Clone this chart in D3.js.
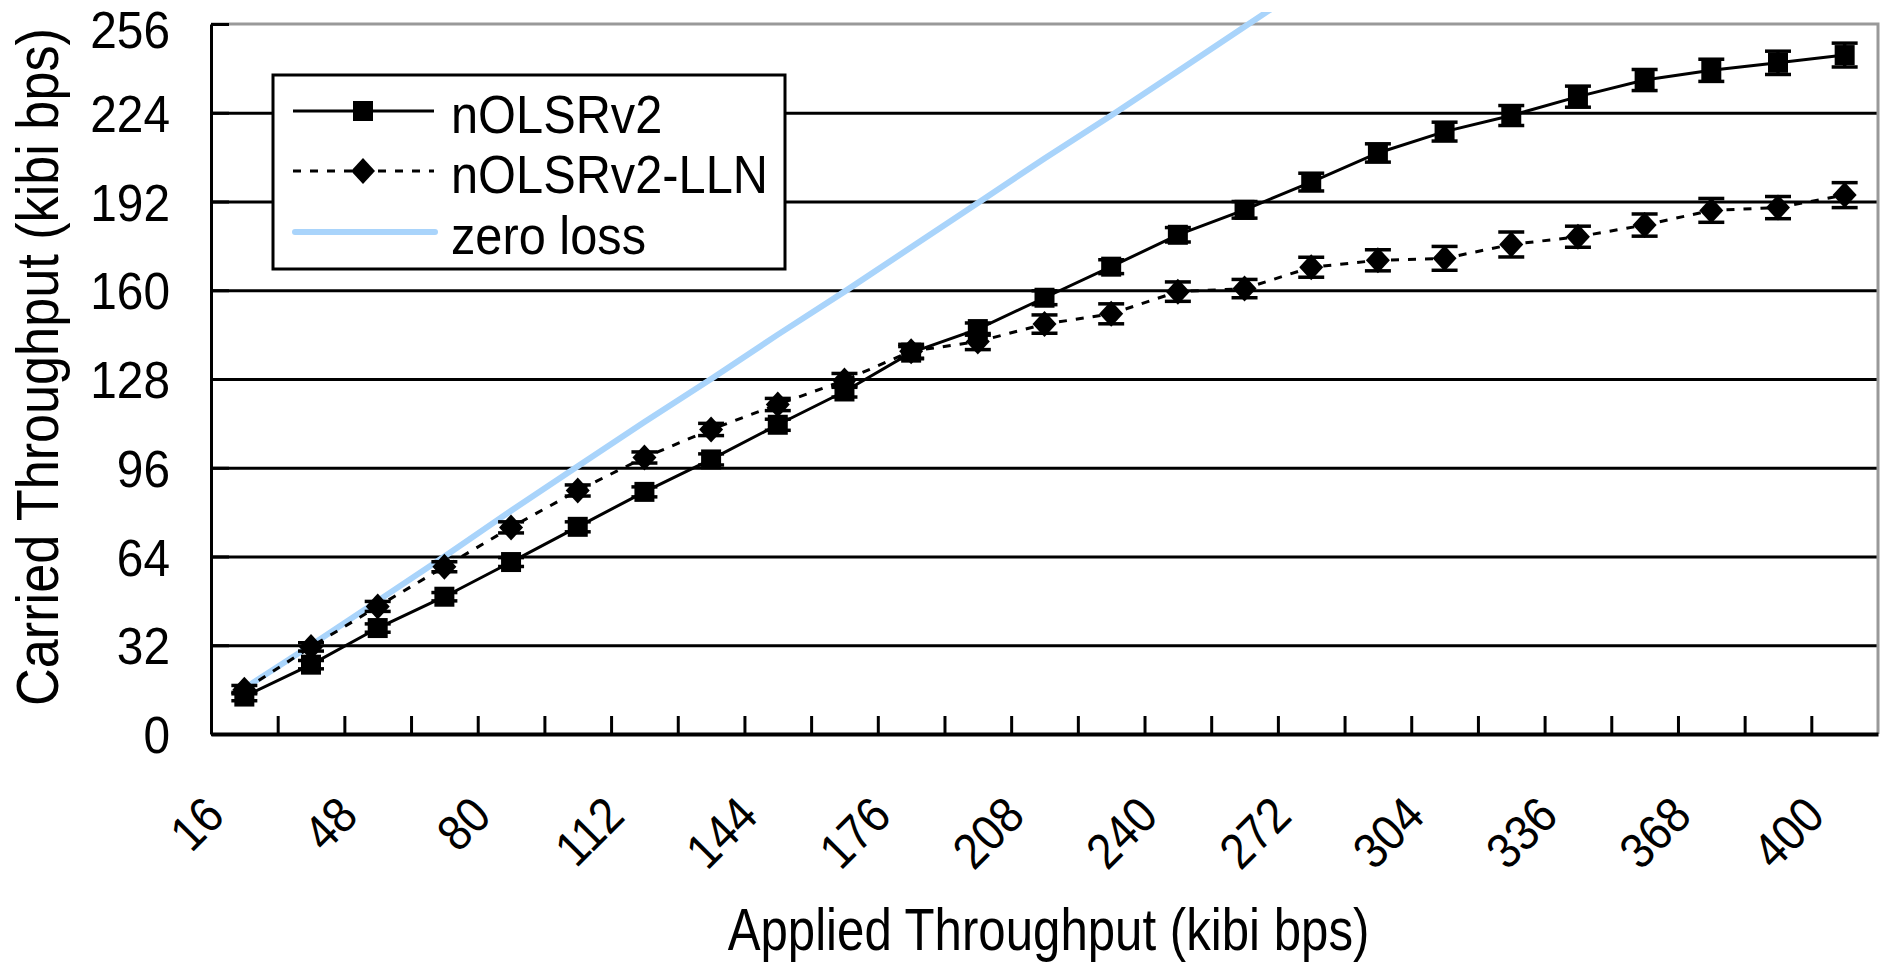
<!DOCTYPE html>
<html>
<head>
<meta charset="utf-8">
<script src="https://cdn.jsdelivr.net/npm/d3@7"></script>
<style>
  body { margin: 0; background: #fff; }
  svg { display: block; font-family: "Liberation Sans", Arial, sans-serif; }
</style>
</head>
<body>
<svg id="chart"></svg>
<script>
//constants
const margin = {top: 24, right: 14, bottom: 230, left: 211};
const width = 1892 - margin.left - margin.right;
const height = 964 - margin.top - margin.bottom;

//data
const applied = [16, 32, 48, 64, 80, 96, 112, 128, 144, 160, 176, 192, 208,
                 224, 240, 256, 272, 288, 304, 320, 336, 352, 368, 384, 400];
const xTickLabels = [16, 48, 80, 112, 144, 176, 208, 240, 272, 304, 336, 368, 400];
const yTicks = [0, 32, 64, 96, 128, 160, 192, 224, 256];

const nolsr = [13.5, 25, 38.2, 49.5, 62, 74.7, 87.3, 99, 111.5, 123.5, 137.5, 146, 157.3,
               168.5, 180, 189, 199, 209.5, 217.2, 223, 229.8, 235.8, 239.3, 242, 244.8];
const nolsrErr = [1.5, 1.5, 1.5, 1.5, 1.6, 1.8, 1.8, 2, 2, 2, 2.2, 2.2, 2.5,
                  2.5, 2.6, 3, 3.2, 3.3, 3.4, 3.6, 3.8, 3.8, 4, 4.2, 4.3];

const lln = [16, 31.4, 46, 60.3, 74.5, 87.8, 99.7, 109.8, 118.8, 127.5, 138, 141.5, 147.8,
             151.5, 159.5, 160.6, 168.3, 170.8, 171.5, 176.5, 179.3, 183.5, 188.8, 189.8, 194.3];
const llnErr = [1.5, 1.5, 1.8, 1.8, 2, 2, 2, 2.2, 2.2, 2.5, 2.5, 2.9, 3.3,
                3.6, 3.5, 3.3, 3.6, 3.8, 4.3, 4.5, 3.8, 4, 4.3, 4, 4.5];

const zeroLoss = [16.5, 32, 48, 64, 80.5, 96.5, 112.5, 128, 144, 159.5, 175.5, 191.5, 207.5,
                  223, 239, 255, 271];

const seriesNames = ["nOLSRv2", "nOLSRv2-LLN", "zero loss"];
const blue = "#a9d4fb";

//main
function main() {

    //scales
    let xScale = d3.scaleBand()
        .domain(applied)
        .range([0, width]);

    let xEdge = d3.scaleLinear()
        .domain([0, applied.length])
        .range([0, width]);

    let yScale = d3.scaleLinear()
        .domain([0, 256])
        .range([height, 0]);

    let cx = (d, i) => xScale(applied[i]) + xScale.bandwidth() / 2;

    //canvas
    let svg = d3.select("svg")
        .attr("width", 1892)
        .attr("height", 964)
        .style("background-color", "#ffffff")
        .append("g")
        .attr("transform", "translate(" + margin.left + "," + margin.top + ")");

    svg.append("clipPath")
        .attr("id", "plotclip")
        .append("rect")
        .attr("x", 0)
        .attr("y", -12)
        .attr("width", width)
        .attr("height", height + 12);

    //gridlines
    svg.append("g")
        .attr("class", "grid")
        .call(d3.axisLeft(yScale)
            .tickValues(yTicks.filter(v => v > 0 && v < 256))
            .tickSize(-width)
            .tickFormat(""))
        .call(g => g.select(".domain").remove())
        .call(g => g.selectAll("line").attr("stroke", "#000").attr("stroke-width", 3));

    //plot border top / right
    svg.append("path")
        .attr("d", "M0," + yScale(256) + "H" + width + "V" + height)
        .attr("fill", "none")
        .attr("stroke", "#999")
        .attr("stroke-width", 3);

    //y axis
    let yAxis = svg.append("g")
        .call(d3.axisLeft(yScale)
            .tickValues(yTicks)
            .tickSizeInner(-18)
            .tickSizeOuter(0)
            .tickPadding(41));
    yAxis.select(".domain").attr("stroke", "#000").attr("stroke-width", 3);
    yAxis.selectAll("line").attr("stroke", "#000").attr("stroke-width", 3);
    yAxis.selectAll("text")
        .attr("font-size", 52)
        .attr("fill", "#000")
        .attr("font-family", "Liberation Sans, Arial, sans-serif")
        .attr("transform", "scale(0.92,1)")
        .attr("x", -41 / 0.92)
        .attr("dy", "0.36em")
        .attr("y", d => d === 256 ? 5 : 0);

    //x axis ticks at category edges
    let xAxis = svg.append("g")
        .attr("transform", "translate(0," + height + ")")
        .call(d3.axisBottom(xEdge)
            .tickValues(d3.range(1, applied.length))
            .tickSizeInner(-18)
            .tickSizeOuter(0)
            .tickFormat(""));
    xAxis.select(".domain").attr("stroke", "#000").attr("stroke-width", 4);
    xAxis.selectAll("line").attr("stroke", "#000").attr("stroke-width", 3);

    //x tick labels
    let xLabels = svg.append("g")
        .attr("transform", "translate(0," + height + ")")
        .call(d3.axisBottom(xScale)
            .tickValues(xTickLabels)
            .tickSize(0));
    xLabels.select(".domain").remove();
    xLabels.selectAll("text")
        .attr("font-size", 50)
        .attr("fill", "#000")
        .attr("font-family", "Liberation Sans, Arial, sans-serif")
        .attr("text-anchor", "end")
        .attr("x", 0)
        .attr("y", 0)
        .attr("dy", "0.35em")
        .attr("transform", "translate(-30,72) rotate(-45) scale(0.9,1)");

    //axes labels
    svg.append("text")
        .attr("transform", "translate(" + (width / 2 + 4) + "," + (height + 216) + ") scale(0.82,1)")
        .style("text-anchor", "middle")
        .attr("font-size", 60)
        .text("Applied Throughput (kibi bps)");

    svg.append("text")
        .attr("transform", "translate(" + (-margin.left + 58) + "," + (height / 2 - 12) + ") rotate(-90) scale(0.87,1)")
        .style("text-anchor", "middle")
        .attr("font-size", 60)
        .text("Carried Throughput (kibi bps)");

    let plot = svg.append("g").attr("clip-path", "url(#plotclip)");

    //zero loss
    plot.append("path")
        .datum(zeroLoss)
        .attr("fill", "none")
        .attr("stroke", blue)
        .attr("stroke-width", 6)
        .attr("d", d3.line()
            .x(cx)
            .y(d => yScale(d)));

    //series drawer
    function drawSeries(values, errs, dash, marker) {
        let g = svg.append("g");
        g.append("path")
            .datum(values)
            .attr("fill", "none")
            .attr("stroke", "#000")
            .attr("stroke-width", 3)
            .attr("stroke-dasharray", dash)
            .attr("d", d3.line()
                .x(cx)
                .y(d => yScale(d)));

        let eb = g.selectAll(".err")
            .data(values)
            .join("g")
            .attr("transform", (d, i) => "translate(" + cx(d, i) + ",0)");
        eb.append("line")
            .attr("y1", (d, i) => yScale(d - errs[i]))
            .attr("y2", (d, i) => yScale(d + errs[i]))
            .attr("stroke", "#000").attr("stroke-width", 3.5);
        eb.append("line")
            .attr("x1", -13).attr("x2", 13)
            .attr("y1", (d, i) => yScale(d - errs[i]))
            .attr("y2", (d, i) => yScale(d - errs[i]))
            .attr("stroke", "#000").attr("stroke-width", 3.5);
        eb.append("line")
            .attr("x1", -13).attr("x2", 13)
            .attr("y1", (d, i) => yScale(d + errs[i]))
            .attr("y2", (d, i) => yScale(d + errs[i]))
            .attr("stroke", "#000").attr("stroke-width", 3.5);

        g.selectAll(".mk")
            .data(values)
            .join("path")
            .attr("d", marker)
            .attr("transform", (d, i) => "translate(" + cx(d, i) + "," + yScale(d) + ")")
            .attr("fill", "#000");
    }

    const squarePath = "M-10,-10H10V10H-10Z";
    const diamondPath = "M0,-13L12,0L0,13L-12,0Z";

    drawSeries(lln, llnErr, "8,9", diamondPath);
    drawSeries(nolsr, nolsrErr, null, squarePath);

    //legend
    let legend = svg.append("g")
        .attr("transform", "translate(" + (273 - margin.left) + "," + (75 - margin.top) + ")");

    legend.append("rect")
        .attr("width", 512)
        .attr("height", 194)
        .attr("fill", "#fff")
        .attr("stroke", "#000")
        .attr("stroke-width", 3);

    const rowY = [36, 96, 157];
    legend.append("line")
        .attr("x1", 20).attr("x2", 161)
        .attr("y1", rowY[0]).attr("y2", rowY[0])
        .attr("stroke", "#000").attr("stroke-width", 3);
    legend.append("path")
        .attr("d", squarePath)
        .attr("transform", "translate(90," + rowY[0] + ")");

    legend.append("line")
        .attr("x1", 20).attr("x2", 161)
        .attr("y1", rowY[1]).attr("y2", rowY[1])
        .attr("stroke", "#000").attr("stroke-width", 3)
        .attr("stroke-dasharray", "8,9");
    legend.append("path")
        .attr("d", diamondPath)
        .attr("transform", "translate(90," + rowY[1] + ")");

    legend.append("line")
        .attr("x1", 22).attr("x2", 162)
        .attr("y1", rowY[2]).attr("y2", rowY[2])
        .attr("stroke", blue).attr("stroke-width", 6)
        .attr("stroke-linecap", "round");

    legend.selectAll(".lt")
        .data(seriesNames)
        .join("text")
        .attr("transform", (d, i) => "translate(178," + (rowY[i] + 22) + ") scale(0.92,1)")
        .attr("font-size", 53)
        .text(d => d);
}

main();
</script>
</body>
</html>
